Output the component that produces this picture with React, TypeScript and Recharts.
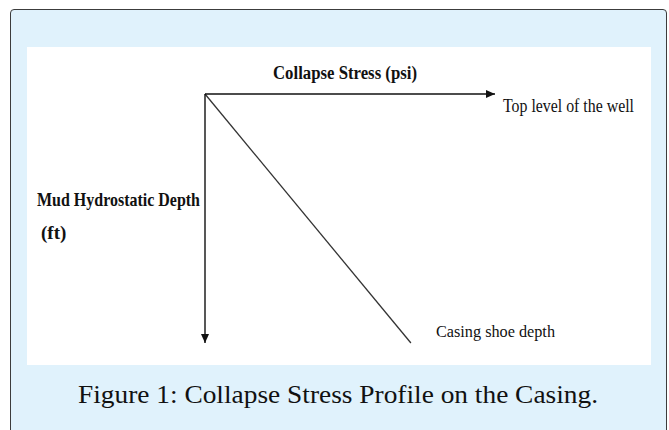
import React from "react";
import { ComposedChart, XAxis, YAxis, Line, Scatter } from "recharts";

// collapse stress profile: zero at surface, max at casing shoe
const stressValues = [0, 71];
const depthValues = [0, 100];
// axis arrow tips (end of each axis)
const arrowTips = [
  { x: 100, y: 0, dir: "right" },
  { x: 0, y: 100, dir: "down" },
];
const xAxisTitle = "Collapse Stress (psi)";
const yAxisTitle = ["Mud Hydrostatic Depth", "(ft)"];
const topNote = "Top level of the well";
const shoeNote = "Casing shoe depth";
const caption = "Figure 1: Collapse Stress Profile on the Casing.";

const profile = stressValues.map((s, i) => ({ x: s, y: depthValues[i] }));

const FONT = '"Liberation Serif", "DejaVu Serif", serif';

function Arrow(props: any) {
  const { cx, cy, payload } = props;
  const pts =
    payload.dir === "right"
      ? `${cx},${cy} ${cx - 9},${cy - 4} ${cx - 9},${cy + 4}`
      : `${cx},${cy} ${cx - 4},${cy - 9} ${cx + 4},${cy - 9}`;
  return <polygon points={pts} fill="#111" />;
}

export default function App() {
  return (
    <div
      style={{
        position: "absolute",
        left: 0,
        top: 0,
        width: 669,
        height: 430,
        overflow: "hidden",
        background: "#fff",
        fontFamily: FONT,
      }}
    >
      <div
        style={{
          position: "absolute",
          left: 10,
          top: 9,
          width: 655,
          height: 440,
          border: "1.5px solid #3c3c3c",
          borderRadius: 4,
          background: "#E0F2FC",
        }}
      />
      <div
        style={{
          position: "absolute",
          left: 27,
          top: 47,
          width: 624,
          height: 318,
          background: "#fff",
        }}
      />
      <div style={{ position: "absolute", left: 0, top: 0 }}>
        <ComposedChart
          width={669}
          height={430}
          margin={{ top: 93, left: 204, right: 174, bottom: 87 }}
        >
          <XAxis
            type="number"
            dataKey="x"
            domain={[0, 100]}
            orientation="top"
            height={1}
            tick={false}
            tickLine={false}
            axisLine={{ stroke: "#111", strokeWidth: 1.4 }}
          />
          <YAxis
            type="number"
            dataKey="y"
            domain={[0, 100]}
            reversed
            width={1}
            tick={false}
            tickLine={false}
            axisLine={{ stroke: "#111", strokeWidth: 1.4 }}
          />
          <Line
            data={profile}
            dataKey="y"
            type="linear"
            stroke="#333"
            strokeWidth={1.3}
            dot={false}
            isAnimationActive={false}
          />
          <Scatter data={arrowTips} dataKey="y" shape={<Arrow />} isAnimationActive={false} />
          <text x={273} y={79} fontFamily={FONT} fontWeight="bold" fontSize={18} fill="#111" textLength={144} lengthAdjust="spacingAndGlyphs">
            {xAxisTitle}
          </text>
          <text x={503} y={112} fontFamily={FONT} fontSize={18} fill="#111" textLength={131} lengthAdjust="spacingAndGlyphs">
            {topNote}
          </text>
          <text x={37} y={206} fontFamily={FONT} fontWeight="bold" fontSize={19} fill="#111" textLength={163} lengthAdjust="spacingAndGlyphs">
            {yAxisTitle[0]}
          </text>
          <text x={41} y={239} fontFamily={FONT} fontWeight="bold" fontSize={19} fill="#111">
            {yAxisTitle[1]}
          </text>
          <text x={436} y={337} fontFamily={FONT} fontSize={17} fill="#111" textLength={119} lengthAdjust="spacingAndGlyphs">
            {shoeNote}
          </text>
          <text x={338} y={403} fontFamily={FONT} fontSize={26} fill="#111" textAnchor="middle" textLength={520} lengthAdjust="spacingAndGlyphs">
            {caption}
          </text>
        </ComposedChart>
      </div>
    </div>
  );
}
